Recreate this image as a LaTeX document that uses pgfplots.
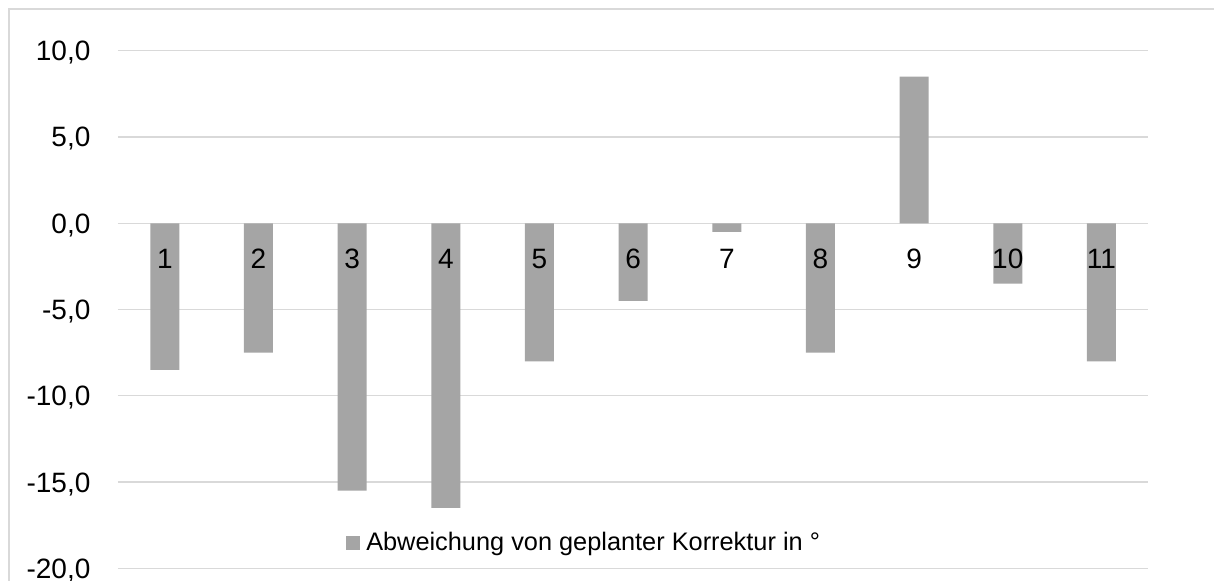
\documentclass[border=0pt]{standalone}
\usepackage{pgfplots}
\pgfplotsset{compat=1.18}
\usepackage{fontspec}
\setmainfont{Liberation Sans}
\definecolor{barcol}{HTML}{A5A5A5}
\definecolor{gridcol}{HTML}{D9D9D9}
\pgfplotsset{
  base/.style={
    at={(0pt,0pt)}, anchor=south west,
    scale only axis,
    width=772.7pt, height=388.2pt,
    xmin=0.5, xmax=11.5, ymin=-20, ymax=10,
    major tick length=0pt,
  },
}
\begin{document}
\fontsize{21}{25}\selectfont
\begin{tikzpicture}
\begin{axis}[
  base,
  ytick={-20,-15,...,10},
  xtick=\empty,
  axis line style={draw=none},
  ymajorgrids, grid style={draw=gridcol, line width=0.9pt},
  /pgf/number format/assume math mode=true,
  yticklabel style={/pgf/number format/.cd, fixed, fixed zerofill, precision=1, use comma, /tikz/.cd, anchor=base east, inner sep=0pt, xshift=-20.5pt, yshift=-7.5pt},
  ybar, bar width=21.75pt,
  legend style={draw=none, fill=none, inner sep=0pt, at={(0.2213,0.0489)}, anchor=west,
    nodes={inner sep=0pt}, font=\fontsize{19}{23}\selectfont},
  legend image code/.code={\fill[barcol] (0pt,-5.25pt) rectangle (10.5pt,5.25pt); \path (15pt,0pt);},
]
\addplot[fill=barcol, draw=none] coordinates {
(1,-8.5) (2,-7.5) (3,-15.5) (4,-16.5) (5,-8.0) (6,-4.5) (7,-0.5) (8,-7.5) (9,8.5) (10,-3.5) (11,-8.0)};
\addlegendentry{Abweichung von geplanter Korrektur in °}
\end{axis}
\begin{axis}[
  base,
  axis x line=middle, axis y line=none,
  axis line style={draw=none},
  ytick=\empty,
  xtick={1,...,11}, xticklabels={1,2,3,4,5,6,7,8,9,10,11},
  xticklabel style={anchor=north, inner sep=0pt, yshift=-19pt},
]
\addplot[draw=none, mark=none] coordinates {(1,0) (11,0)};
\end{axis}
\draw[gridcol, line width=0.9pt] (-81.75pt,-12pt) -- (-81.75pt,419.5pt) -- (830pt,419.5pt);
\pgfresetboundingbox
\useasboundingbox (-88.5pt,-9.5pt) rectangle (822pt,426.25pt);
\end{tikzpicture}
\end{document}
